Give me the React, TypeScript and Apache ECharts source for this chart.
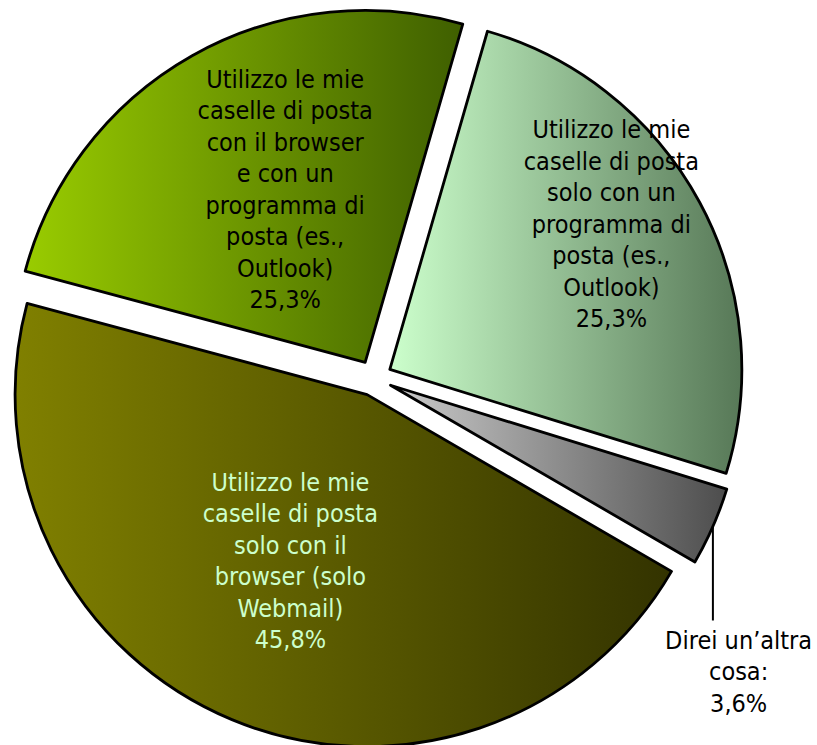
import React, { useEffect, useRef } from 'react';
import * as echarts from 'echarts';

// Data
const categories = [
  'Utilizzo le mie\ncaselle di posta\nsolo con un\nprogramma di\nposta (es.,\nOutlook)',
  'Direi un’altra\ncosa:',
  'Utilizzo le mie\ncaselle di posta\nsolo con il\nbrowser (solo\nWebmail)',
  'Utilizzo le mie\ncaselle di posta\ncon il browser\ne con un\nprogramma di\nposta (es.,\nOutlook)',
];
const values = [25.3, 3.6, 45.8, 25.3];

// Styles
const gradientStops = [
  ['#ccffcc', '#577857'],
  ['#cccccc', '#4d4d4d'],
  ['#808000', '#333300'],
  ['#99cc00', '#3f5f00'],
];
const labelColors = ['#000000', '#000000', '#ccffcc', '#000000'];
const labelShifts = [
  [64, -60],
  [-23, 92],
  [-8, 1],
  [8, -17],
];

const FONT = "'DejaVu Sans Condensed', 'DejaVu Sans', sans-serif";

export default function App() {
  const ref = useRef<HTMLDivElement>(null);
  useEffect(() => {
    if (!ref.current) return;
    const chart = echarts.init(ref.current, undefined, { renderer: 'svg' });
    const data = categories.map((name, i) => ({
      name,
      value: values[i],
      selected: true,
      itemStyle: {
        color: {
          type: 'linear',
          x: 0,
          y: 0,
          x2: 1,
          y2: 0,
          colorStops: [
            { offset: 0, color: gradientStops[i][0] },
            { offset: 1, color: gradientStops[i][1] },
          ],
        },
      },
      label: {
        color: labelColors[i],
        position: i === 1 ? 'outside' : 'inside',
      },
      labelLine: { show: i === 1 },
    }));
    chart.setOption({
      animation: false,
      backgroundColor: '#ffffff',
      series: [
        {
          type: 'pie',
          center: [374, 378],
          radius: [0, 352],
          startAngle: 73.9,
          clockwise: true,
          selectedMode: 'multiple',
          selectedOffset: 18,
          avoidLabelOverlap: false,
          emphasis: { disabled: true },
          itemStyle: { borderColor: '#000000', borderWidth: 2.8 },
          select: { itemStyle: { borderColor: '#000000', borderWidth: 2.8 } },
          label: {
            show: true,
            fontFamily: FONT,
            fontSize: 25,
            lineHeight: 31.5,
            align: 'center',
            formatter: (p: any) => `${p.name}\n${String(p.value).replace('.', ',')}%`,
          },
          labelLine: {
            show: false,
            lineStyle: { color: '#000000', width: 2 },
          },
          labelLayout: (params: any) => {
            const i = params.dataIndex;
            if (i === 1 && params.labelLinePoints) {
              const s = params.labelLinePoints[0];
              return {
                dx: labelShifts[i][0],
                dy: labelShifts[i][1],
                align: 'center',
                verticalAlign: 'top',
                labelLinePoints: [
                  [s[0], s[1]],
                  [s[0], s[1] + 47],
                  [s[0], s[1] + 94],
                ],
              };
            }
            return { dx: labelShifts[i][0], dy: labelShifts[i][1] };
          },
          data,
        },
      ],
    });
    return () => chart.dispose();
  }, []);
  return (
    <div
      ref={ref}
      style={{ position: 'absolute', left: 0, top: 0, width: 817, height: 745 }}
    />
  );
}
